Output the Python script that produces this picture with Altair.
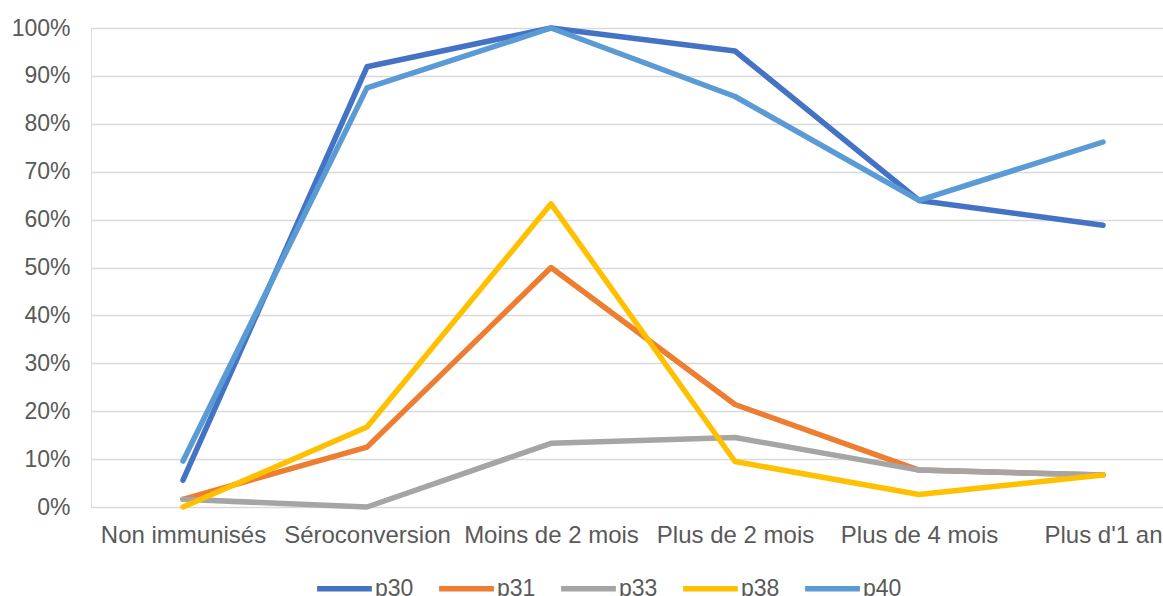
import json
import altair as alt
import pandas as pd

categories = ["Non immunisés", "Séroconversion", "Moins de 2 mois",
              "Plus de 2 mois", "Plus de 4 mois", "Plus d'1 an"]
series = ["p30", "p31", "p33", "p38", "p40"]
p30 = [0.056, 0.919, 1.000, 0.952, 0.640, 0.588]
p31 = [0.016, 0.125, 0.500, 0.214, 0.077, 0.067]
p33 = [0.016, 0.000, 0.133, 0.145, 0.077, 0.067]
p38 = [0.000, 0.167, 0.633, 0.095, 0.026, 0.067]
p40 = [0.096, 0.875, 1.000, 0.857, 0.640, 0.762]
colors = ["#4472C4", "#ED7D31", "#A5A5A5", "#FFC000", "#5B9BD5"]

values = {"p30": p30, "p31": p31, "p33": p33, "p38": p38, "p40": p40}
rows = []
for s_i, s in enumerate(series):
    for i, c in enumerate(categories):
        rows.append({"serie": s, "order": s_i, "idx": i, "cat": c, "val": values[s][i]})
df = pd.DataFrame(rows)

label_expr = json.dumps(categories, ensure_ascii=False) + "[datum.value]"
FONT = "Liberation Sans"
GREY = "#595959"

chart = alt.Chart(df).mark_line(strokeWidth=5.5, strokeCap="round", strokeJoin="round").encode(
    x=alt.X("idx:Q",
            scale=alt.Scale(domain=[-0.5, 5.326], nice=False, zero=False),
            axis=alt.Axis(values=list(range(len(categories))), labelExpr=label_expr,
                          title=None, grid=False, domain=False, ticks=False,
                          labelPadding=16, labelFontSize=24, labelColor=GREY,
                          labelFont=FONT, labelBaseline="top")),
    y=alt.Y("val:Q",
            scale=alt.Scale(domain=[0, 1], nice=False),
            axis=alt.Axis(values=[i / 10 for i in range(11)], format=".0%",
                          title=None, domain=False, ticks=False, labelPadding=21,
                          labelFontSize=23, labelColor=GREY, labelFont=FONT,
                          gridColor="#D9D9D9", gridWidth=1.5)),
    color=alt.Color("serie:N",
                    scale=alt.Scale(domain=series, range=colors),
                    legend=alt.Legend(title=None, orient="none", direction="horizontal",
                                      legendX=223, legendY=530,
                                      symbolType="stroke", symbolSize=3000,
                                      symbolStrokeWidth=5.5, labelFontSize=23,
                                      labelColor=GREY, labelFont=FONT,
                                      labelOffset=0, columnPadding=14)),
    order=alt.Order("order:Q"),
    detail="serie:N",
).properties(
    width=1072, height=479,
    autosize=alt.AutoSizeParams(type="none"),
    padding={"left": 91, "top": 28, "right": 0, "bottom": 89},
).configure_view(stroke=None).configure(background="white")

chart.save("out.html", embed_options={"renderer": "svg", "actions": False})
